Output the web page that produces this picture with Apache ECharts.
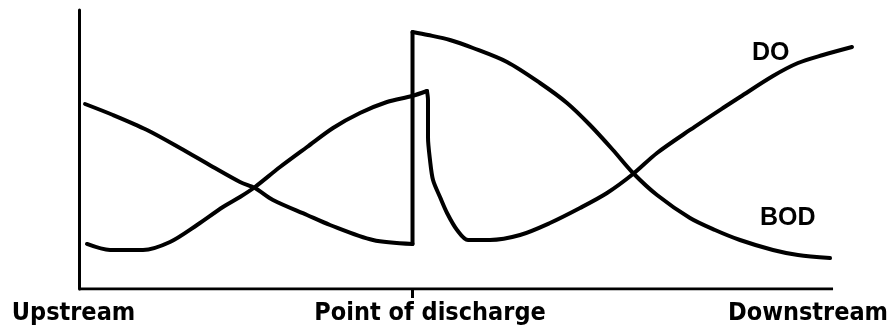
<!DOCTYPE html>
<html>
<head>
<meta charset="utf-8">
<script src="https://cdn.jsdelivr.net/npm/echarts@6/dist/echarts.min.js"></script>
<style>
  html, body { margin: 0; padding: 0; background: #fff; }
  #chart { width: 892px; height: 335px; }
</style>
</head>
<body>
<div id="chart"></div>
<script>
// Distance along river (0 = upstream edge, 100 = downstream edge); concentration in relative units 0..100
const bodUpX = [0.78, 4.39, 8.79, 13.05, 17.31, 20.80, 22.74, 25.06, 29.46, 32.43, 37.98, 43.09];
const bodUpY = [66.31, 62.37, 56.99, 50.54, 43.73, 38.35, 36.20, 31.90, 26.52, 22.94, 17.56, 16.13];
const bodDownX = [43.09, 45.09, 47.93, 50.90, 55.30, 59.56, 63.05, 66.02, 68.99, 71.58, 74.68, 78.94, 82.17, 85.40, 89.66, 92.89, 97.03];
const bodDownY = [92.11, 91.04, 89.25, 86.38, 81.36, 73.84, 66.67, 58.78, 49.82, 41.58, 33.69, 25.45, 21.15, 17.56, 13.98, 12.19, 11.11];

const doUpX = [1.03, 4.01, 8.27, 11.76, 15.25, 18.60, 20.80, 22.74, 25.97, 29.46, 32.82, 36.30, 39.79, 43.02, 44.96];
const doUpY = [16.13, 13.98, 13.98, 16.85, 22.94, 29.39, 32.97, 36.56, 43.73, 50.90, 57.71, 63.08, 67.03, 69.18, 70.97];
const doDownX = [44.96, 45.09, 45.09, 45.35, 45.74, 46.64, 47.55, 48.84, 50.26, 53.10, 56.98, 60.85, 64.73, 68.22, 71.58, 74.68, 78.94, 83.20, 85.40, 89.66, 92.89, 96.12, 99.87];
const doDownY = [70.97, 67.74, 54.48, 46.24, 39.07, 32.97, 27.24, 21.15, 17.56, 17.56, 19.35, 23.66, 29.03, 34.41, 41.22, 48.75, 57.00, 64.87, 68.82, 76.34, 81.00, 83.87, 86.74];

const dischargeX = 43.09;
const axisEndX = 97.42;
const tickLabelValues = [0, 45.35, 94.19];
const tickLabels = ['Upstream', 'Point of discharge', 'Downstream'];
const seriesNames = ['BOD', 'DO'];

const zip = (xs, ys) => xs.map((x, i) => [x, ys[i]]);
const lineStyle = { color: '#000', width: 4, join: 'round', cap: 'round' };
const curve = (name, xs, ys, smooth) => ({
  name: name, type: 'line', symbol: 'none', smooth: smooth, silent: true,
  data: zip(xs, ys), lineStyle: lineStyle
});

const chart = echarts.init(document.getElementById('chart'), null, { renderer: 'canvas' });
chart.setOption({
  backgroundColor: '#ffffff',
  animation: false,
  grid: { left: 79, right: 39, top: 10, bottom: 46 },
  xAxis: {
    type: 'value', min: 0, max: 100,
    splitLine: { show: false },
    axisLine: { show: false },
    axisTick: { show: true, customValues: [dischargeX], length: 9, lineStyle: { color: '#000', width: 3 } },
    axisLabel: {
      customValues: tickLabelValues,
      margin: 12,
      color: '#000',
      fontFamily: 'DejaVu Sans Condensed',
      fontWeight: 'bold',
      fontSize: 25,
      formatter: function (v) {
        const i = tickLabelValues.indexOf(v);
        if (i === 0) return '{u|' + tickLabels[0] + '}';
        return i >= 0 ? tickLabels[i] : '';
      },
      rich: {
        u: { fontFamily: 'DejaVu Sans Condensed', fontWeight: 'bold', fontSize: 25, color: '#000', padding: [0, 11, 0, 0] }
      }
    }
  },
  yAxis: {
    type: 'value', min: 0, max: 100,
    splitLine: { show: false },
    axisTick: { show: false },
    axisLabel: { show: false },
    axisLine: { show: true, lineStyle: { color: '#000', width: 3 } }
  },
  series: [
    {
      name: 'axis', type: 'line', symbol: 'none', silent: true,
      data: zip([0, axisEndX], [0, 0]),
      lineStyle: { color: '#000', width: 3 }
    },
    curve(seriesNames[0], bodUpX, bodUpY, 0.3),
    curve(seriesNames[0],
      [bodUpX[bodUpX.length - 1], bodDownX[0]],
      [bodUpY[bodUpY.length - 1], bodDownY[0]], false),
    curve(seriesNames[0], bodDownX, bodDownY, 0.3),
    curve(seriesNames[1], doUpX, doUpY, 0.3),
    curve(seriesNames[1], doDownX, doDownY, 0.3)
  ],
  graphic: [
    { type: 'text', left: 752, top: 41, style: { text: seriesNames[1], fill: '#000', font: 'bold 25px "Liberation Sans", Arial, sans-serif' } },
    { type: 'text', left: 760, top: 206, style: { text: seriesNames[0], fill: '#000', font: 'bold 25px "Liberation Sans", Arial, sans-serif' } }
  ]
});
</script>
</body>
</html>
